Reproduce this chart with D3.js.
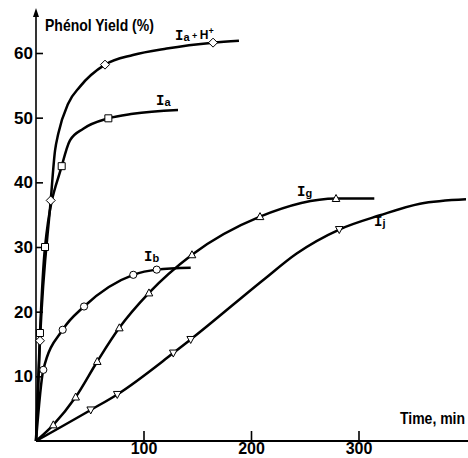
<!DOCTYPE html>
<html>
<head>
<meta charset="utf-8">
<script src="https://cdn.jsdelivr.net/npm/d3@7"></script>
<style>
  html, body { margin: 0; padding: 0; background: #fff; }
  svg { display: block; }
</style>
</head>
<body>
<svg id="chart" width="468" height="458"></svg>
<script>
// ---- data (time in min, phenol yield in %); third value 1 = marker drawn ----
const seriesIaH = [[0,0,0],[3.7,15.5,1],[13.7,37.2,1],[17.7,44.9,0],[20.7,47.5,0],[30,52.2,0],[40.9,54.8,0],[64.2,58.2,1],[90.2,59.7,0],[121.6,60.7,0],[164.7,61.6,1],[188.8,61.9,0]];
const seriesIa  = [[0,0,0],[3.7,16.7,1],[8.4,30.0,1],[23.9,42.5,1],[31.6,46.5,0],[44,48.3,0],[67.3,49.9,1],[90.2,50.6,0],[132.1,51.2,0]];
const seriesIb  = [[0,0,0],[6.8,11.0,1],[24.8,17.2,1],[44.7,20.8,1],[90.5,25.7,1],[112.3,26.5,1],[143.9,26.8,0]];
const seriesIg  = [[0,0,0],[16.1,2.5,1],[36.9,6.8,1],[57,12.3,1],[77.5,17.5,1],[105.1,22.9,1],[145.1,28.8,1],[208.4,34.7,1],[279.1,37.5,1],[314.7,37.5,0]];
const seriesIj  = [[0,0,0],[50.9,4.8,1],[75.6,7.2,1],[127.7,13.6,1],[143.9,15.7,1],[211.4,24.9,0],[242.5,29.0,0],[282.1,32.7,1],[320,34.9,0],[357.2,36.7,0],[400,37.4,0]];
const yTicks = [10,20,30,40,50,60];
const xTicks = [100,200,300];
const yTitle = "Phénol Yield (%)";
const xTitle = "Time, min";

const svg = d3.select("#chart");
const x = d3.scaleLinear().domain([0,100]).range([36,143.5]);
const y = d3.scaleLinear().domain([0,60]).range([441,53]);

const tickFont = "'Liberation Sans', Arial, sans-serif";

// axes
const gy = svg.append("g").attr("transform", `translate(${x(0)},0)`)
  .call(d3.axisLeft(y).tickValues(yTicks).tickSizeInner(-7).tickSizeOuter(0).tickPadding(3));
const gx = svg.append("g").attr("transform", `translate(0,${y(0)})`)
  .call(d3.axisBottom(x).tickValues(xTicks).tickSizeInner(-10).tickSizeOuter(0).tickPadding(2));
[gy, gx].forEach(g => {
  g.select(".domain").remove();
  g.selectAll("line").attr("stroke", "#000").attr("stroke-width", 1.6);
  g.selectAll("text").attr("font-family", tickFont).attr("font-weight", "bold")
    .attr("fill", "#000");
});
gy.selectAll("text").attr("font-size", 17);
gx.selectAll("text").attr("font-size", 16);

// axis lines
svg.append("line").attr("x1", x(0)).attr("x2", x(0)).attr("y1", y(0)).attr("y2", 12)
  .attr("stroke", "#000").attr("stroke-width", 1.6);
svg.append("path").attr("d", `M${x(0)},8 L${x(0)-3},17 L${x(0)+3},17 Z`).attr("fill", "#000");
svg.append("line").attr("x1", x(0)).attr("x2", 468).attr("y1", y(0)).attr("y2", y(0))
  .attr("stroke", "#000").attr("stroke-width", 1.8);

// titles
svg.append("text").attr("transform", "translate(45,31) scale(1,1.15)").text(yTitle)
  .attr("font-family", tickFont).attr("font-weight", "bold").attr("font-size", 14);
svg.append("text").attr("transform", "translate(400,424) scale(1,1.15)").text(xTitle)
  .attr("font-family", tickFont).attr("font-weight", "bold").attr("font-size", 14);

// curves
const line = d3.line().x(d => x(d[0])).y(d => y(d[1])).curve(d3.curveMonotoneX);
const all = [
  {data: seriesIaH, marker: "diamond"},
  {data: seriesIa,  marker: "square"},
  {data: seriesIb,  marker: "circle"},
  {data: seriesIg,  marker: "triUp"},
  {data: seriesIj,  marker: "triDown"}
];
all.forEach(s => {
  svg.append("path").datum(s.data).attr("d", line)
    .attr("fill", "none").attr("stroke", "#000").attr("stroke-width", 2.5)
    .attr("stroke-linejoin", "round");
});
const markerPath = {
  diamond: "M0,-4.5 L4.5,0 L0,4.5 L-4.5,0 Z",
  square: "M-3.5,-3.5 H3.5 V3.5 H-3.5 Z",
  triUp: "M0,-4 L3.8,3 L-3.8,3 Z",
  triDown: "M0,4 L3.8,-3 L-3.8,-3 Z"
};
all.forEach(s => {
  const pts = s.data.filter(d => d[2] === 1);
  if (s.marker === "circle") {
    svg.append("g").selectAll("circle").data(pts).join("circle")
      .attr("cx", d => x(d[0])).attr("cy", d => y(d[1])).attr("r", 3.6)
      .attr("fill", "#fff").attr("stroke", "#000").attr("stroke-width", 1);
  } else {
    svg.append("g").selectAll("path").data(pts).join("path")
      .attr("transform", d => `translate(${x(d[0])},${y(d[1])})`)
      .attr("d", markerPath[s.marker])
      .attr("fill", "#fff").attr("stroke", "#000").attr("stroke-width", 1);
  }
});

// curve labels
const romanFont = "'Liberation Mono', 'DejaVu Sans Mono', monospace";
function label(px, py, sub, extra) {
  const t = svg.append("text").attr("x", px).attr("y", py).attr("fill", "#000")
    .attr("font-weight", "bold");
  t.append("tspan").text("I").attr("font-family", romanFont).attr("font-size", 14);
  t.append("tspan").text(sub).attr("font-family", tickFont).attr("font-size", 11).attr("dy", 1);
  if (extra) {
    t.append("tspan").text(" + ").attr("font-family", tickFont).attr("font-size", 9).attr("dy", -2);
    t.append("tspan").text("H").attr("font-family", tickFont).attr("font-size", 12).attr("dy", 0);
    t.append("tspan").text("+").attr("font-family", tickFont).attr("font-size", 9).attr("dy", -5);
  }
}
label(175, 40, "a", true);
label(156, 105, "a");
label(144, 261, "b");
label(297, 196, "g");
label(374, 226, "j");
</script>
</body>
</html>
